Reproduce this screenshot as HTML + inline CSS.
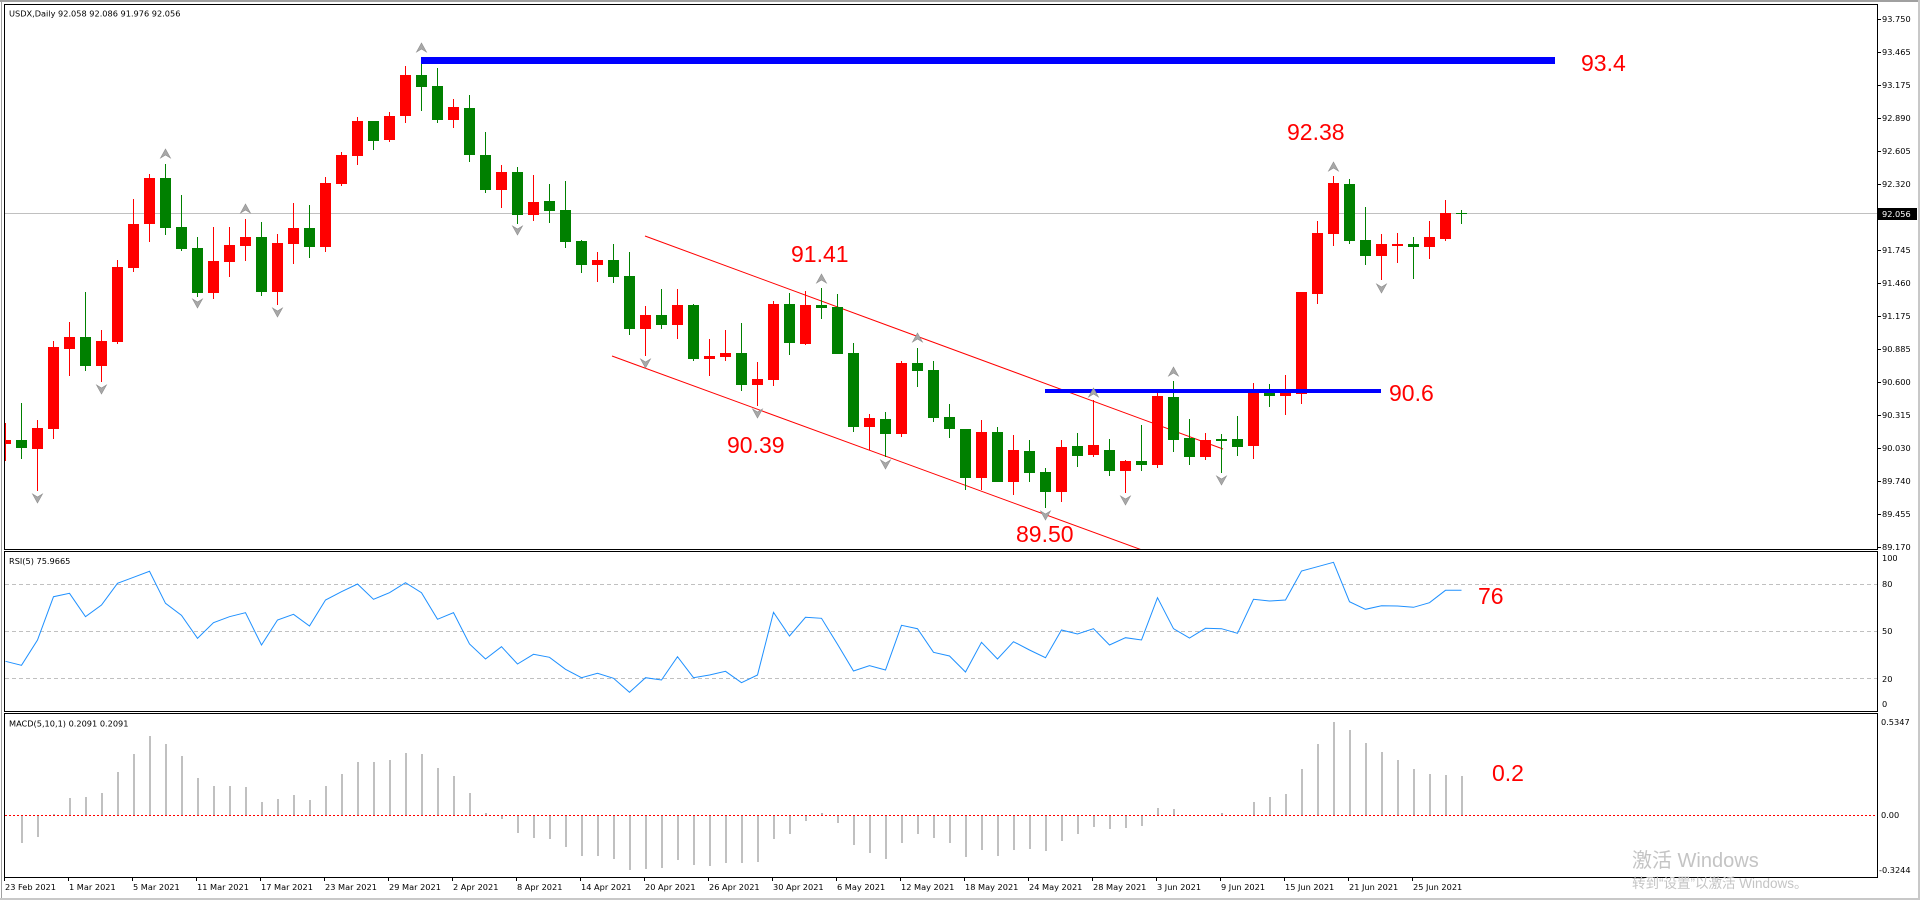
<!DOCTYPE html>
<html>
<head>
<meta charset="utf-8">
<style>
html,body{margin:0;padding:0;background:#fff;width:1920px;height:900px;overflow:hidden;}
svg{display:block;}
.s{font-family:"DejaVu Sans","Liberation Sans",sans-serif;font-size:8.2px;fill:#000;}
.big{font-family:"Liberation Sans",Arial,sans-serif;font-size:23px;fill:#ff0000;}
.wm{font-family:"Liberation Sans","Noto Sans CJK SC",sans-serif;fill:#c4c4c4;}
</style>
</head>
<body>
<svg width="1920" height="900" viewBox="0 0 1920 900" xmlns="http://www.w3.org/2000/svg">
<defs>
<clipPath id="cm"><rect x="5" y="5" width="1872" height="544"/></clipPath>
<clipPath id="cr"><rect x="5" y="552" width="1872" height="159"/></clipPath>
<clipPath id="cd"><rect x="5" y="714" width="1872" height="163"/></clipPath>
</defs>
<rect x="0" y="0" width="1920" height="900" fill="#fff"/>
<!-- window frame -->
<g shape-rendering="crispEdges">
<rect x="0" y="0" width="1920" height="2" fill="#a0a0a0"/>
<rect x="1" y="0" width="1" height="900" fill="#a0a0a0"/>
<rect x="1918" y="0" width="2" height="900" fill="#c8c8c8"/>
<rect x="0" y="898" width="1920" height="2" fill="#c8c8c8"/>
</g>

<!-- current price line -->
<line x1="5" y1="213.5" x2="1877" y2="213.5" stroke="#c0c0c0" stroke-width="1" shape-rendering="crispEdges"/>

<!-- MAIN PANE -->
<g clip-path="url(#cm)">
<!-- channel lines -->
<line x1="645" y1="236" x2="1223" y2="449" stroke="#ff0000" stroke-width="1"/>
<line x1="612" y1="356" x2="1142" y2="550" stroke="#ff0000" stroke-width="1"/>
<g shape-rendering="crispEdges">
<path fill="#ff0000" d="M0 440h11v4h-11z M5 423h1v38h-1z
M32 428h11v21h-11z M37 420h1v71h-1z
M48 347h11v82h-11z M53 341h1v98h-1z
M64 337h11v12h-11z M69 322h1v54h-1z
M96 341h11v25h-11z M101 330h1v52h-1z
M112 267h11v75h-11z M117 260h1v84h-1z
M128 224h11v44h-11z M133 199h1v73h-1z
M144 178h11v46h-11z M149 174h1v68h-1z
M208 261h11v32h-11z M213 227h1v72h-1z
M224 245h11v17h-11z M229 227h1v50h-1z
M240 237h11v9h-11z M245 219h1v42h-1z
M272 243h11v49h-11z M277 234h1v71h-1z
M288 228h11v16h-11z M293 203h1v61h-1z
M320 183h11v64h-11z M325 177h1v75h-1z
M336 155h11v29h-11z M341 152h1v34h-1z
M352 121h11v35h-11z M357 117h1v48h-1z
M384 116h11v24h-11z M389 112h1v30h-1z
M400 75h11v41h-11z M405 66h1v57h-1z
M448 107h11v13h-11z M453 99h1v29h-1z
M496 172h11v18h-11z M501 165h1v43h-1z
M528 202h11v13h-11z M533 175h1v46h-1z
M592 260h11v5h-11z M597 252h1v30h-1z
M640 315h11v14h-11z M645 306h1v50h-1z
M672 305h11v20h-11z M677 289h1v50h-1z
M704 356h11v3h-11z M709 339h1v37h-1z
M720 353h11v4h-11z M725 330h1v31h-1z
M752 379h11v6h-11z M757 362h1v44h-1z
M768 304h11v76h-11z M773 301h1v85h-1z
M800 305h11v39h-11z M805 291h1v54h-1z
M864 418h11v9h-11z M869 414h1v36h-1z
M896 363h11v71h-11z M901 361h1v76h-1z
M976 432h11v46h-11z M981 420h1v70h-1z
M1008 450h11v32h-11z M1013 435h1v60h-1z
M1056 447h11v45h-11z M1061 440h1v62h-1z
M1088 445h11v10h-11z M1093 400h1v57h-1z
M1120 461h11v10h-11z M1125 460h1v33h-1z
M1152 396h11v69h-11z M1157 391h1v77h-1z
M1200 440h11v17h-11z M1205 433h1v27h-1z
M1248 393h11v53h-11z M1253 383h1v76h-1z
M1280 393h11v3h-11z M1285 375h1v40h-1z
M1296 292h11v102h-11z M1301 292h1v112h-1z
M1312 233h11v61h-11z M1317 221h1v83h-1z
M1328 183h11v51h-11z M1333 176h1v70h-1z
M1376 244h11v12h-11z M1381 234h1v46h-1z
M1392 244h11v2h-11z M1397 233h1v30h-1z
M1424 237h11v10h-11z M1429 221h1v38h-1z
M1440 213h11v26h-11z M1445 200h1v41h-1z"/>
<path fill="#008000" d="M16 440h11v8h-11z M21 403h1v56h-1z
M80 337h11v29h-11z M85 292h1v79h-1z
M160 178h11v50h-11z M165 164h1v71h-1z
M176 227h11v22h-11z M181 195h1v56h-1z
M192 248h11v45h-11z M197 237h1v60h-1z
M256 237h11v55h-11z M261 222h1v74h-1z
M304 228h11v19h-11z M309 205h1v53h-1z
M368 121h11v20h-11z M373 121h1v29h-1z
M416 75h11v12h-11z M421 57h1v54h-1z
M432 86h11v34h-11z M437 68h1v55h-1z
M464 108h11v47h-11z M469 95h1v67h-1z
M480 155h11v35h-11z M485 132h1v61h-1z
M512 172h11v43h-11z M517 167h1v57h-1z
M544 201h11v10h-11z M549 184h1v39h-1z
M560 210h11v32h-11z M565 181h1v67h-1z
M576 241h11v24h-11z M581 240h1v33h-1z
M608 260h11v17h-11z M613 244h1v39h-1z
M624 276h11v53h-11z M629 252h1v83h-1z
M656 315h11v10h-11z M661 289h1v40h-1z
M688 305h11v54h-11z M693 304h1v57h-1z
M736 353h11v32h-11z M741 323h1v68h-1z
M784 304h11v39h-11z M789 293h1v62h-1z
M816 305h11v3h-11z M821 288h1v31h-1z
M832 307h11v47h-11z M837 294h1v60h-1z
M848 353h11v74h-11z M853 343h1v89h-1z
M880 419h11v15h-11z M885 412h1v45h-1z
M912 363h11v8h-11z M917 348h1v39h-1z
M928 370h11v48h-11z M933 361h1v61h-1z
M944 417h11v12h-11z M949 404h1v34h-1z
M960 429h11v49h-11z M965 429h1v61h-1z
M992 432h11v50h-11z M997 427h1v55h-1z
M1024 451h11v22h-11z M1029 440h1v42h-1z
M1040 472h11v20h-11z M1045 468h1v40h-1z
M1072 446h11v10h-11z M1077 433h1v34h-1z
M1104 450h11v21h-11z M1109 439h1v37h-1z
M1136 461h11v4h-11z M1141 425h1v46h-1z
M1168 397h11v43h-11z M1173 381h1v71h-1z
M1184 438h11v19h-11z M1189 419h1v46h-1z
M1216 439h11v2h-11z M1221 434h1v39h-1z
M1232 439h11v8h-11z M1237 416h1v40h-1z
M1264 393h11v3h-11z M1269 384h1v23h-1z
M1344 184h11v57h-11z M1349 179h1v65h-1z
M1360 240h11v16h-11z M1365 207h1v58h-1z
M1408 244h11v3h-11z M1413 237h1v42h-1z
M1456 213h11v1h-11z M1461 210h1v14h-1z"/>
<!-- blue levels -->
<rect x="421" y="57" width="1134" height="7" fill="#0000ff"/>
<rect x="1045" y="389" width="336" height="4" fill="#0000ff"/>
</g>
<!-- fractal arrows -->
<g fill="#a8a8a8" stroke="#8c8c8c" stroke-width="0.6">
<polygon points="165.5,149 170.5,158 165.5,155 160.5,158"/>
<polygon points="245.5,204 250.5,213 245.5,210 240.5,213"/>
<polygon points="421.5,43 426.5,52 421.5,49 416.5,52"/>
<polygon points="821.5,274 826.5,283 821.5,280 816.5,283"/>
<polygon points="917.5,333 922.5,342 917.5,339 912.5,342"/>
<polygon points="1093.5,388 1098.5,397 1093.5,394 1088.5,397"/>
<polygon points="1173.5,367 1178.5,376 1173.5,373 1168.5,376"/>
<polygon points="1333.5,162 1338.5,171 1333.5,168 1328.5,171"/>
<polygon points="37.5,503 42.5,494 37.5,497 32.5,494"/>
<polygon points="101.5,394 106.5,385 101.5,388 96.5,385"/>
<polygon points="197.5,308 202.5,299 197.5,302 192.5,299"/>
<polygon points="277.5,317 282.5,308 277.5,311 272.5,308"/>
<polygon points="517.5,235 522.5,226 517.5,229 512.5,226"/>
<polygon points="645.5,368 650.5,359 645.5,362 640.5,359"/>
<polygon points="757.5,418 762.5,409 757.5,412 752.5,409"/>
<polygon points="885.5,469 890.5,460 885.5,463 880.5,460"/>
<polygon points="1045.5,520 1050.5,511 1045.5,514 1040.5,511"/>
<polygon points="1125.5,505 1130.5,496 1125.5,499 1120.5,496"/>
<polygon points="1221.5,485 1226.5,476 1221.5,479 1216.5,476"/>
<polygon points="1381.5,293 1386.5,284 1381.5,287 1376.5,284"/>
</g>
</g>

<!-- RSI PANE -->
<g clip-path="url(#cr)">
<g stroke="#c0c0c0" stroke-width="1" stroke-dasharray="4 3" shape-rendering="crispEdges">
<line x1="5" y1="584.5" x2="1877" y2="584.5"/>
<line x1="5" y1="631.5" x2="1877" y2="631.5"/>
<line x1="5" y1="678.5" x2="1877" y2="678.5"/>
</g>
<polyline fill="none" stroke="#1e90ff" stroke-width="1" points="5.5,661.3 21.5,665.3 37.5,640 53.5,596.7 69.5,593.3 85.5,616.7 101.5,605 117.5,583.3 133.5,577.3 149.5,571.3 165.5,603.3 181.5,615.3 197.5,638.3 213.5,622.7 229.5,616.7 245.5,612.7 261.5,645 277.5,620 293.5,614.3 309.5,626 325.5,600 341.5,591.7 357.5,584 373.5,599.3 389.5,592.7 405.5,582.7 421.5,592.7 437.5,619.3 453.5,612.7 469.5,644 485.5,659 501.5,646.7 517.5,664 533.5,654.3 549.5,657.3 565.5,669.3 581.5,677.7 597.5,673.3 613.5,678.3 629.5,692.3 645.5,677.7 661.5,680 677.5,656.7 693.5,677.7 709.5,675 725.5,671.3 741.5,682.7 757.5,675 773.5,612.3 789.5,636 805.5,617.3 821.5,618.3 837.5,644.3 853.5,671 869.5,665.7 885.5,670 901.5,625.3 917.5,628.7 933.5,652.3 949.5,656 965.5,672 981.5,642.3 997.5,659 1013.5,641.7 1029.5,650 1045.5,657.7 1061.5,630 1077.5,634 1093.5,628.7 1109.5,645 1125.5,637.7 1141.5,640 1157.5,597.7 1173.5,628.7 1189.5,638 1205.5,628.3 1221.5,628.7 1237.5,633.3 1253.5,599.3 1269.5,601 1285.5,600 1301.5,571 1317.5,566.7 1333.5,562.3 1349.5,601.7 1365.5,609.3 1381.5,605.7 1397.5,606 1413.5,607.3 1429.5,602.7 1445.5,590.3 1461.5,590.3"/>
</g>

<!-- MACD PANE -->
<g clip-path="url(#cd)">
<path fill="#c0c0c0" shape-rendering="crispEdges" d="M21 815h2v28h-2z M37 815h2v22h-2z M53 814h2v1h-2z M69 798h2v17h-2z M85 797h2v18h-2z M101 793h2v22h-2z M117 772h2v43h-2z M133 754h2v61h-2z M149 736h2v79h-2z M165 744h2v71h-2z M181 756h2v59h-2z M197 778h2v37h-2z M213 786h2v29h-2z M229 786h2v29h-2z M245 787h2v28h-2z M261 802h2v13h-2z M277 799h2v16h-2z M293 795h2v20h-2z M309 800h2v15h-2z M325 786h2v29h-2z M341 774h2v41h-2z M357 762h2v53h-2z M373 762h2v53h-2z M389 760h2v55h-2z M405 753h2v62h-2z M421 754h2v61h-2z M437 768h2v47h-2z M453 776h2v39h-2z M469 793h2v22h-2z M485 813h2v2h-2z M501 815h2v4h-2z M517 815h2v18h-2z M533 815h2v23h-2z M549 815h2v24h-2z M565 815h2v32h-2z M581 815h2v41h-2z M597 815h2v41h-2z M613 815h2v44h-2z M629 815h2v55h-2z M645 815h2v54h-2z M661 815h2v53h-2z M677 815h2v45h-2z M693 815h2v50h-2z M709 815h2v51h-2z M725 815h2v48h-2z M741 815h2v48h-2z M757 815h2v47h-2z M773 815h2v24h-2z M789 815h2v19h-2z M805 815h2v6h-2z M821 813h2v2h-2z M837 815h2v8h-2z M853 815h2v30h-2z M869 815h2v38h-2z M885 815h2v44h-2z M901 815h2v28h-2z M917 815h2v19h-2z M933 815h2v23h-2z M949 815h2v28h-2z M965 815h2v42h-2z M981 815h2v35h-2z M997 815h2v41h-2z M1013 815h2v35h-2z M1029 815h2v34h-2z M1045 815h2v36h-2z M1061 815h2v26h-2z M1077 815h2v19h-2z M1093 815h2v12h-2z M1109 815h2v14h-2z M1125 815h2v13h-2z M1141 815h2v11h-2z M1157 808h2v7h-2z M1173 809h2v6h-2z M1189 815h2v1h-2z M1221 813h2v2h-2z M1253 802h2v13h-2z M1269 797h2v18h-2z M1285 794h2v21h-2z M1301 769h2v46h-2z M1317 744h2v71h-2z M1333 722h2v93h-2z M1349 730h2v85h-2z M1365 743h2v72h-2z M1381 752h2v63h-2z M1397 760h2v55h-2z M1413 769h2v46h-2z M1429 774h2v41h-2z M1445 775h2v40h-2z M1461 776h2v39h-2z"/>
<line x1="5" y1="815.5" x2="1877" y2="815.5" stroke="#ff0000" stroke-width="1" stroke-dasharray="2 2" shape-rendering="crispEdges"/>
</g>

<!-- pane borders -->
<g fill="none" stroke="#000" stroke-width="1" shape-rendering="crispEdges">
<rect x="4.5" y="4.5" width="1873" height="545"/>
<rect x="4.5" y="551.5" width="1873" height="160"/>
<rect x="4.5" y="713.5" width="1873" height="164"/>
</g>

<!-- price axis ticks -->
<g stroke="#000" stroke-width="1" shape-rendering="crispEdges">
<line x1="1878" y1="19.5" x2="1881" y2="19.5"/>
<line x1="1878" y1="52.5" x2="1881" y2="52.5"/>
<line x1="1878" y1="85.5" x2="1881" y2="85.5"/>
<line x1="1878" y1="118.5" x2="1881" y2="118.5"/>
<line x1="1878" y1="151.5" x2="1881" y2="151.5"/>
<line x1="1878" y1="184.5" x2="1881" y2="184.5"/>
<line x1="1878" y1="250.5" x2="1881" y2="250.5"/>
<line x1="1878" y1="283.5" x2="1881" y2="283.5"/>
<line x1="1878" y1="316.5" x2="1881" y2="316.5"/>
<line x1="1878" y1="349.5" x2="1881" y2="349.5"/>
<line x1="1878" y1="382.5" x2="1881" y2="382.5"/>
<line x1="1878" y1="415.5" x2="1881" y2="415.5"/>
<line x1="1878" y1="448.5" x2="1881" y2="448.5"/>
<line x1="1878" y1="481.5" x2="1881" y2="481.5"/>
<line x1="1878" y1="514.5" x2="1881" y2="514.5"/>
<line x1="1878" y1="547.5" x2="1881" y2="547.5"/>
</g>
<g class="s">
<text x="1882" y="22">93.750</text>
<text x="1882" y="55">93.465</text>
<text x="1882" y="88">93.175</text>
<text x="1882" y="121">92.890</text>
<text x="1882" y="154">92.605</text>
<text x="1882" y="187">92.320</text>
<text x="1882" y="253">91.745</text>
<text x="1882" y="286">91.460</text>
<text x="1882" y="319">91.175</text>
<text x="1882" y="352">90.885</text>
<text x="1882" y="385">90.600</text>
<text x="1882" y="418">90.315</text>
<text x="1882" y="451">90.030</text>
<text x="1882" y="484">89.740</text>
<text x="1882" y="517">89.455</text>
<text x="1882" y="550">89.170</text>
</g>
<rect x="1878" y="208" width="39" height="12" fill="#000"/>
<text class="s" x="1882" y="217" style="fill:#fff">92.056</text>

<!-- RSI axis -->
<g class="s">
<text x="1882" y="561">100</text>
<text x="1882" y="587">80</text>
<text x="1882" y="634">50</text>
<text x="1882" y="682">20</text>
<text x="1882" y="707">0</text>
<text x="1881" y="725">0.5347</text>
<text x="1881" y="818">0.00</text>
<text x="1879" y="873">-0.3244</text>
</g>

<!-- date axis -->
<g stroke="#000" stroke-width="1" shape-rendering="crispEdges">
<line x1="4.5" y1="877" x2="4.5" y2="881"/>
<line x1="68.5" y1="877" x2="68.5" y2="881"/>
<line x1="132.5" y1="877" x2="132.5" y2="881"/>
<line x1="196.5" y1="877" x2="196.5" y2="881"/>
<line x1="260.5" y1="877" x2="260.5" y2="881"/>
<line x1="324.5" y1="877" x2="324.5" y2="881"/>
<line x1="388.5" y1="877" x2="388.5" y2="881"/>
<line x1="452.5" y1="877" x2="452.5" y2="881"/>
<line x1="516.5" y1="877" x2="516.5" y2="881"/>
<line x1="580.5" y1="877" x2="580.5" y2="881"/>
<line x1="644.5" y1="877" x2="644.5" y2="881"/>
<line x1="708.5" y1="877" x2="708.5" y2="881"/>
<line x1="772.5" y1="877" x2="772.5" y2="881"/>
<line x1="836.5" y1="877" x2="836.5" y2="881"/>
<line x1="900.5" y1="877" x2="900.5" y2="881"/>
<line x1="964.5" y1="877" x2="964.5" y2="881"/>
<line x1="1028.5" y1="877" x2="1028.5" y2="881"/>
<line x1="1092.5" y1="877" x2="1092.5" y2="881"/>
<line x1="1156.5" y1="877" x2="1156.5" y2="881"/>
<line x1="1220.5" y1="877" x2="1220.5" y2="881"/>
<line x1="1284.5" y1="877" x2="1284.5" y2="881"/>
<line x1="1348.5" y1="877" x2="1348.5" y2="881"/>
<line x1="1412.5" y1="877" x2="1412.5" y2="881"/>
</g>
<g class="s">
<text x="5" y="890">23 Feb 2021</text>
<text x="69" y="890">1 Mar 2021</text>
<text x="133" y="890">5 Mar 2021</text>
<text x="197" y="890">11 Mar 2021</text>
<text x="261" y="890">17 Mar 2021</text>
<text x="325" y="890">23 Mar 2021</text>
<text x="389" y="890">29 Mar 2021</text>
<text x="453" y="890">2 Apr 2021</text>
<text x="517" y="890">8 Apr 2021</text>
<text x="581" y="890">14 Apr 2021</text>
<text x="645" y="890">20 Apr 2021</text>
<text x="709" y="890">26 Apr 2021</text>
<text x="773" y="890">30 Apr 2021</text>
<text x="837" y="890">6 May 2021</text>
<text x="901" y="890">12 May 2021</text>
<text x="965" y="890">18 May 2021</text>
<text x="1029" y="890">24 May 2021</text>
<text x="1093" y="890">28 May 2021</text>
<text x="1157" y="890">3 Jun 2021</text>
<text x="1221" y="890">9 Jun 2021</text>
<text x="1285" y="890">15 Jun 2021</text>
<text x="1349" y="890">21 Jun 2021</text>
<text x="1413" y="890">25 Jun 2021</text>
</g>

<!-- pane titles -->
<g class="s">
<text x="9" y="16.5">USDX,Daily  92.058 92.086 91.976 92.056</text>
<text x="9" y="564">RSI(5) 75.9665</text>
<text x="9" y="726.5">MACD(5,10,1) 0.2091 0.2091</text>
</g>

<!-- red annotations -->
<g class="big">
<text x="1581" y="71">93.4</text>
<text x="1287" y="140">92.38</text>
<text x="791" y="262">91.41</text>
<text x="727" y="453">90.39</text>
<text x="1016" y="542">89.50</text>
<text x="1389" y="401">90.6</text>
<text x="1478" y="604">76</text>
<text x="1492" y="781">0.2</text>
</g>

<!-- watermark -->
<text class="wm" x="1632" y="867" font-size="20">激活 Windows</text>
<text class="wm" x="1632" y="888" font-size="13.5">转到“设置”以激活 Windows。</text>
</svg>
</body>
</html>
